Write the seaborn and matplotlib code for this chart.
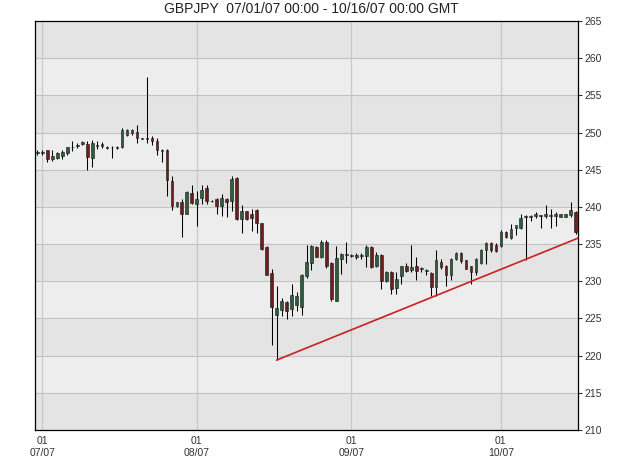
import numpy as np
import pandas as pd
import matplotlib
matplotlib.use("Agg")
import matplotlib.pyplot as plt
import matplotlib.dates as mdates
import seaborn as sns

# Bougies journalières GBPJPY (30/06/07 -> 16/10/07)
dates = pd.date_range("2007-06-30", "2007-10-16", freq="D")

opens = [247.3, 247.3, 247.6, 246.4, 246.6, 246.8, 247.2, 248.0, 248.3, 248.4,
         248.5, 246.6, 248.3, 248.4, 248.0, 248.0, 248.0, 248.0, 249.7, 249.9,
         250.1, 249.2, 249.2, 249.2, 248.8, 247.6, 247.7, 243.5, 240.1, 240.6,
         239.1, 241.9, 240.4, 241.2, 242.5, 240.8, 241.1, 240.1, 241.1, 240.8,
         243.9, 238.4, 239.5, 239.0, 239.6, 237.8, 234.6, 231.1, 225.4, 226.2,
         227.2, 226.3, 226.8, 226.6, 230.7, 232.5, 234.6, 233.2, 235.3, 232.5,
         227.4, 233.0, 233.6, 233.5, 233.2, 233.5, 233.4, 234.6, 232.0, 233.6,
         230.0, 231.3, 229.1, 230.7, 232.1, 231.5, 232.0, 231.7, 231.4, 231.1,
         229.2, 232.6, 232.0, 230.8, 233.0, 233.8, 232.8, 232.0, 231.2, 232.5,
         234.2, 235.1, 234.9, 234.8, 236.6, 235.8, 237.1, 237.1, 238.6, 238.7,
         238.8, 238.8, 238.8, 238.9, 238.8, 238.7, 238.7, 238.9, 239.3]
highs = [247.6, 247.7, 247.7, 247.6, 247.4, 247.6, 248.1, 248.9, 248.6, 248.8,
         248.8, 249.0, 248.8, 248.7, 248.2, 248.2, 248.2, 250.6, 250.5, 250.5,
         251.0, 249.3, 257.5, 249.6, 249.2, 247.8, 247.8, 244.2, 240.7, 241.0,
         242.1, 242.9, 242.1, 242.9, 242.9, 240.9, 241.2, 241.7, 241.2, 244.2,
         244.0, 240.3, 239.5, 239.7, 239.7, 237.9, 234.7, 231.7, 229.3, 227.7,
         227.3, 229.6, 228.5, 231.0, 234.9, 234.9, 234.8, 235.5, 235.5, 232.6,
         234.7, 233.8, 235.3, 233.7, 233.8, 233.8, 234.9, 234.7, 233.9, 233.7,
         231.4, 231.4, 231.3, 232.1, 232.4, 234.9, 233.2, 231.9, 231.6, 231.2,
         234.2, 233.0, 232.2, 233.1, 233.9, 233.9, 232.9, 232.1, 233.1, 234.4,
         235.3, 235.3, 235.1, 236.9, 236.7, 237.7, 237.6, 239.0, 238.9, 238.9,
         239.3, 238.9, 240.2, 239.7, 239.3, 239.1, 239.1, 240.6, 239.4]
lows = [247.0, 247.0, 246.1, 246.2, 246.4, 246.5, 247.0, 247.5, 247.9, 248.3,
        245.0, 245.4, 247.8, 247.9, 247.8, 246.6, 247.8, 247.9, 249.6, 249.7,
        248.6, 249.1, 248.6, 248.3, 247.0, 246.1, 241.5, 239.6, 240.0, 235.9,
        239.0, 240.4, 237.4, 240.4, 240.4, 240.7, 239.0, 238.8, 238.7, 239.5,
        238.3, 236.5, 238.3, 236.7, 236.5, 234.2, 230.8, 221.4, 219.4, 225.3,
        224.9, 225.3, 226.0, 225.4, 230.4, 231.5, 233.2, 233.1, 231.8, 227.4,
        227.3, 231.0, 232.4, 233.3, 233.0, 233.0, 231.9, 231.8, 231.9, 229.0,
        229.9, 228.3, 228.3, 229.7, 231.2, 231.2, 230.2, 231.2, 230.9, 228.0,
        228.0, 231.7, 229.4, 230.2, 232.9, 232.5, 231.6, 229.7, 230.9, 232.3,
        232.3, 234.0, 234.0, 234.6, 235.8, 235.7, 236.2, 237.0, 232.8, 238.1,
        238.5, 237.1, 238.5, 237.2, 237.4, 238.6, 238.6, 238.7, 236.3]
closes = [247.35, 247.4, 246.4, 246.8, 247.3, 247.4, 248.0, 248.1, 248.3, 248.7,
          246.7, 248.6, 248.3, 248.2, 248.0, 248.1, 248.0, 250.4, 250.4, 250.4,
          249.2, 249.2, 249.2, 248.8, 247.6, 247.6, 243.6, 240.1, 240.6, 239.1,
          242.0, 240.5, 241.0, 242.3, 240.8, 240.8, 240.1, 241.2, 240.6, 243.7,
          238.4, 239.5, 238.4, 238.5, 237.8, 234.4, 230.9, 226.6, 226.4, 227.3,
          226.0, 228.2, 228.0, 230.8, 232.6, 234.7, 233.3, 235.3, 232.0, 227.6,
          233.1, 233.7, 233.6, 233.5, 233.6, 233.5, 234.6, 231.9, 233.6, 230.0,
          231.3, 228.9, 230.3, 232.0, 231.4, 231.9, 231.4, 231.7, 231.4, 229.2,
          232.8, 231.9, 230.8, 233.0, 233.8, 232.7, 231.7, 231.2, 233.0, 234.2,
          235.2, 234.2, 234.1, 236.6, 235.9, 237.0, 237.5, 238.5, 238.8, 238.8,
          239.0, 238.8, 239.1, 238.9, 239.1, 239.0, 239.0, 239.6, 236.6]

# Ligne de tendance haussière tracée à la main
trend_dates = pd.to_datetime(["2007-08-17 00:00", "2007-10-16 11:00"])
trend_values = [219.4, 235.8]

# Axes
month_starts = pd.to_datetime(["2007-07-01", "2007-08-01", "2007-09-01", "2007-10-01"])
month_labels = ["01\n07/07", "01\n08/07", "01\n09/07", "01\n10/07"]
price_ticks = list(range(210, 266, 5))

sns.set_style("white")
plt.rcParams["font.family"] = ["Liberation Sans", "DejaVu Sans"]

fig = plt.figure(figsize=(6.25, 4.71), dpi=100)
ax = fig.add_axes([35 / 625, 1 - 430 / 471, (578 - 35) / 625, (430 - 21) / 471])

# Bandes horizontales alternées en fond
for k, lo in enumerate(price_ticks[:-1]):
    ax.axhspan(lo, lo + 5, color="#e4e4e4" if k % 2 == 0 else "#ededed", lw=0, zorder=0)
for p in price_ticks[1:-1]:
    ax.axhline(p, color="#c2c2c2", lw=0.8, zorder=1)

x = mdates.date2num(dates)
for m in mdates.date2num(month_starts):
    ax.axvline(m, color="#c8c8c8", lw=0.9, zorder=1)

o = np.array(opens)
c = np.array(closes)
h = np.array(highs)
l = np.array(lows)

up = c >= o
body_h = np.maximum(np.abs(c - o), 0.12)
body_bot = (o + c) / 2 - body_h / 2
colors = np.where(up, "#2f5c3e", "#6e1d1d")

ax.vlines(x, l, h, color="black", lw=0.75, zorder=3)
ax.bar(x, body_h, bottom=body_bot, width=0.55, color=colors,
       edgecolor="#151515", linewidth=0.4, zorder=4)

sns.lineplot(x=mdates.date2num(trend_dates), y=trend_values, color="#cc1f1f",
             lw=1.2, ax=ax, zorder=5)

ax.set_xlim(x[0] - 0.46, x[-1] + 0.46)
ax.set_ylim(210, 265)

ax.set_xticks(mdates.date2num(month_starts))
ax.set_xticklabels(month_labels, fontsize=7.5, color="#333333", linespacing=1.2)
ax.set_yticks(price_ticks)
ax.set_yticklabels([str(p) for p in price_ticks], fontsize=7.5, color="#333333")
ax.yaxis.tick_right()
ax.tick_params(axis="y", direction="out", length=3, width=0.8, pad=1.5, colors="#333333")
ax.tick_params(axis="x", direction="out", length=3, width=0.8, pad=1.5, colors="#333333")

for s in ax.spines.values():
    s.set_visible(True)
    s.set_color("black")
    s.set_linewidth(0.9)

fig.text(311 / 625, 1 - 9 / 471, "GBPJPY  07/01/07 00:00 - 10/16/07 00:00 GMT",
         ha="center", va="center", fontsize=10, color="#222222")

fig.savefig("out.png", dpi=100, facecolor="white")
